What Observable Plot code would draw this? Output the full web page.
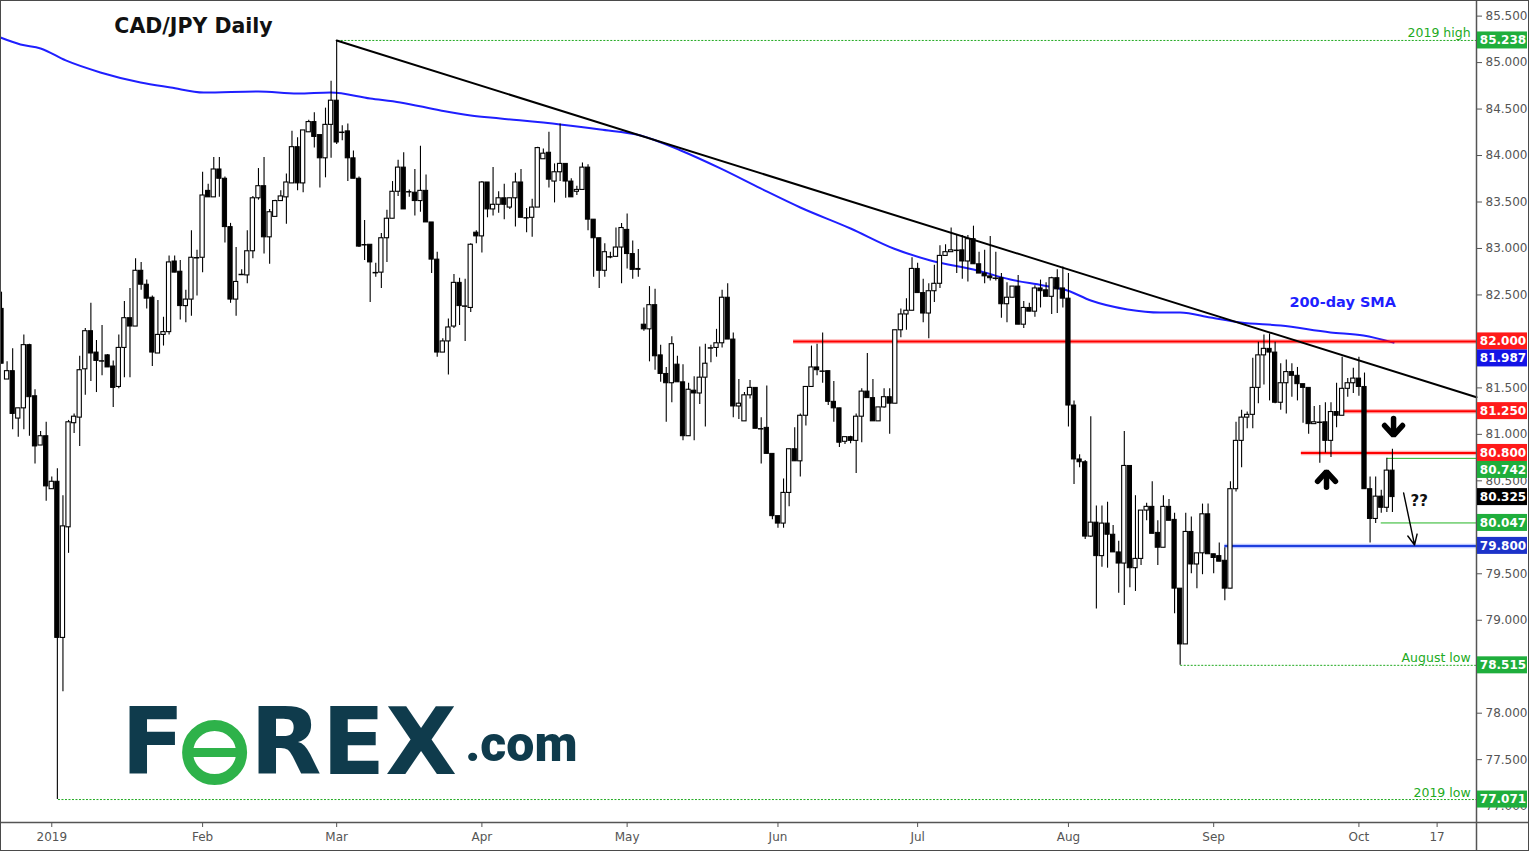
<!DOCTYPE html>
<html><head><meta charset="utf-8">
<script src="https://cdn.jsdelivr.net/npm/d3@7"></script>
<script src="https://cdn.jsdelivr.net/npm/@observablehq/plot@0.6"></script>
<style>
html,body{margin:0;padding:0;background:#fff;}
#wrap{position:relative;width:1529px;height:851px;overflow:hidden;}
#frame{position:absolute;left:0;top:0;width:1527px;height:849px;border:1px solid #4a4a4a;pointer-events:none;}
svg{display:block;}
</style></head><body><div id="wrap"><div id="frame"></div></div>
<script>
// ---- data: daily candles (Sun–Fri sessions), index 0 = first visible candle ----
const open = [82.35,81.59,81.68,81.17,81.28,81.96,81.41,80.88,80.98,80.41,80.49,78.81,80.00,81.12,81.18,81.70,82.11,81.88,81.79,81.85,81.73,81.51,81.93,82.25,82.16,82.76,82.61,82.47,81.87,82.07,82.10,82.86,82.75,82.38,82.45,82.90,82.90,83.62,83.55,83.85,83.75,83.23,82.45,82.72,82.71,82.97,83.54,83.67,83.12,83.34,83.51,83.55,83.70,84.09,83.70,84.25,84.36,84.22,83.97,84.33,84.59,84.25,84.26,83.97,83.75,83.04,83.04,82.74,82.74,83.11,83.32,83.61,83.87,83.61,83.60,83.51,83.62,83.28,82.88,81.88,82.00,82.16,82.63,82.38,82.36,83.17,83.13,83.71,83.42,83.47,83.54,83.44,83.54,83.71,83.33,83.33,83.44,83.96,84.03,83.72,83.82,83.91,83.72,83.61,83.63,83.87,83.31,83.11,82.76,82.91,82.91,83.01,83.20,82.94,82.78,82.18,82.13,82.39,81.85,81.65,81.55,81.75,81.56,80.98,81.47,81.44,81.61,81.93,81.93,81.98,82.47,82.02,81.30,81.14,81.42,81.50,81.06,81.07,80.79,80.12,80.04,80.37,80.84,80.71,81.20,81.51,81.72,81.68,81.68,81.35,81.28,80.92,80.97,80.93,81.19,81.46,81.39,81.14,81.29,81.40,81.33,82.12,82.29,82.33,82.78,82.52,82.30,82.54,82.62,82.92,82.96,82.98,82.98,82.86,83.10,82.83,82.73,82.70,82.68,82.68,82.40,82.47,82.59,82.18,82.36,82.32,82.57,82.55,82.48,82.68,82.57,82.46,81.31,80.73,80.70,79.90,80.05,79.69,80.04,79.92,79.73,79.61,80.66,79.56,79.66,80.18,80.22,79.94,79.78,80.22,80.08,79.34,78.74,79.95,79.60,79.72,80.14,79.71,79.69,79.64,79.34,80.41,80.93,81.18,81.21,81.50,81.85,81.92,81.88,81.34,81.55,81.67,81.63,81.54,81.50,81.11,81.13,81.13,80.93,81.24,81.20,81.49,81.55,81.60,81.51,80.41,80.09,80.33,80.21,80.61];
const high = [82.53,81.78,81.92,81.28,82.07,81.97,81.48,81.03,81.13,80.54,80.63,80.34,81.15,81.22,81.84,82.14,82.41,82.01,82.17,81.86,81.79,82.07,82.43,82.57,82.89,82.85,82.66,82.49,82.44,82.26,82.92,82.92,82.87,82.55,83.19,82.98,83.82,83.69,83.98,83.98,83.77,83.27,83.01,82.77,83.19,83.56,83.86,83.98,83.42,83.52,83.62,83.80,84.26,84.19,84.27,84.38,84.46,84.22,84.51,84.80,85.238,84.32,84.34,84.05,83.77,83.30,83.04,82.84,83.16,83.41,83.72,83.95,84.03,83.63,83.85,84.10,83.79,83.28,82.96,82.03,82.24,82.72,82.68,82.67,83.05,83.19,83.72,83.71,83.87,83.61,83.69,83.54,83.81,83.85,83.43,83.53,84.09,84.07,84.25,83.91,84.34,83.91,83.75,83.67,83.92,83.90,83.31,83.11,83.05,82.96,83.22,83.27,83.37,83.08,82.99,82.36,82.59,82.56,81.96,81.72,82.05,81.84,81.75,81.55,81.62,81.94,81.97,81.96,82.13,82.55,82.62,82.09,81.59,81.45,81.58,81.50,81.18,81.52,80.79,80.12,80.52,80.84,81.07,81.22,81.51,81.95,81.97,82.09,81.68,81.57,81.28,80.97,80.98,81.22,81.49,81.87,81.59,81.29,81.49,81.49,82.12,82.35,82.46,82.90,82.84,82.67,82.62,82.82,83.03,83.04,83.22,83.14,83.14,83.14,83.24,82.96,82.98,83.13,82.96,82.73,82.63,82.59,82.71,82.43,82.41,82.60,82.66,82.63,82.69,82.77,82.80,82.73,81.36,80.78,80.72,81.19,80.23,80.23,80.27,80.02,79.85,81.03,80.66,80.34,80.18,80.26,80.49,80.07,80.34,80.30,80.15,79.34,80.15,80.11,79.72,80.25,80.25,79.71,79.83,79.78,80.49,81.13,81.26,81.24,81.82,81.99,82.07,82.08,81.99,81.76,81.80,81.76,81.72,81.54,81.50,81.30,81.31,81.34,81.34,81.55,81.83,81.60,81.71,81.83,81.66,80.54,80.54,80.40,80.742,80.84];
const low = [81.76,81.59,81.05,80.97,81.05,80.98,80.68,80.88,80.28,80.41,77.071,78.23,79.72,81.01,80.87,81.42,81.57,81.45,81.63,81.72,81.29,81.49,81.61,81.61,82.16,82.55,82.35,81.73,81.87,81.95,82.07,82.74,82.23,82.20,82.27,82.49,82.74,83.55,83.55,83.55,83.06,82.41,82.27,82.72,82.62,82.89,83.52,82.94,82.83,83.34,83.51,83.26,83.70,83.62,83.60,84.25,84.08,83.65,83.76,83.97,84.12,84.16,83.72,83.75,83.01,82.87,82.42,82.69,82.57,82.85,83.32,83.56,83.42,83.55,83.35,83.39,83.28,82.73,81.83,81.88,81.64,82.14,82.17,82.00,82.31,83.05,82.95,83.33,83.35,83.38,83.31,83.42,83.23,83.33,83.17,83.12,83.44,83.96,83.65,83.49,83.72,83.54,83.55,83.57,83.63,83.19,82.69,82.57,82.69,82.89,82.91,82.62,82.78,82.67,82.69,82.11,81.78,81.69,81.56,81.13,81.34,81.56,80.93,80.98,80.93,81.32,81.08,81.77,81.83,81.93,82.02,81.18,81.16,81.14,81.38,81.06,80.68,80.79,80.08,79.99,79.99,80.22,80.71,80.54,81.09,81.51,81.63,81.55,81.31,81.13,80.86,80.89,80.90,80.58,80.91,81.39,81.14,81.14,81.28,81.00,81.33,82.04,82.12,82.33,82.52,82.20,82.03,82.42,82.57,82.92,82.96,82.73,82.67,82.64,82.83,82.73,82.62,82.65,82.65,82.25,82.20,82.47,82.18,82.14,82.32,82.26,82.36,82.48,82.29,82.30,82.36,81.08,80.46,80.64,79.87,79.89,79.12,79.57,79.56,79.73,79.29,79.16,79.35,79.31,79.59,80.07,79.93,79.59,79.78,80.07,79.07,78.515,78.74,79.50,79.34,79.49,79.71,79.50,79.63,79.21,79.34,80.38,80.64,81.06,81.06,81.33,81.53,81.36,81.33,81.26,81.22,81.40,81.36,81.12,81.00,81.11,80.69,80.80,80.75,81.07,81.20,81.40,81.44,81.41,80.41,79.83,80.04,80.15,80.16,80.16];
const close = [81.76,81.68,81.22,81.28,81.96,81.40,80.87,80.98,80.44,80.49,78.81,80.01,81.13,81.19,81.69,82.11,81.87,81.79,81.79,81.72,81.50,81.93,82.25,82.16,82.76,82.61,82.46,81.88,82.07,82.10,82.85,82.74,82.38,82.45,82.90,82.90,83.57,83.55,83.85,83.75,83.23,82.45,82.64,82.72,82.97,83.54,83.67,83.12,83.39,83.51,83.56,83.71,84.09,83.70,84.27,84.36,84.20,83.97,84.33,84.59,84.14,84.25,83.97,83.75,83.02,83.04,82.85,82.74,83.11,83.32,83.61,83.87,83.42,83.61,83.51,83.62,83.28,82.88,81.88,82.00,82.15,82.63,82.38,82.38,83.04,83.13,83.71,83.42,83.47,83.54,83.47,83.54,83.71,83.33,83.33,83.44,84.08,84.02,83.74,83.82,83.91,83.72,83.55,83.63,83.87,83.31,83.11,82.76,82.96,82.91,83.01,83.22,82.94,82.77,82.77,82.13,82.39,81.84,81.65,81.55,81.97,81.56,80.98,81.48,81.44,81.61,81.76,81.93,81.98,82.47,82.02,81.30,81.33,81.42,81.50,81.06,81.06,80.79,80.12,80.04,80.37,80.84,80.71,81.20,81.51,81.72,81.69,81.68,81.35,81.28,80.91,80.97,80.93,81.19,81.46,81.39,81.14,81.29,81.40,81.33,82.12,82.29,82.33,82.78,82.52,82.30,82.54,82.62,82.92,82.96,82.98,82.98,82.86,83.10,82.83,82.73,82.70,82.68,82.68,82.40,82.47,82.59,82.18,82.36,82.32,82.57,82.54,82.48,82.68,82.56,82.46,81.31,80.73,80.70,79.90,80.05,79.69,80.04,79.92,79.73,79.61,80.66,79.56,79.66,80.18,80.22,79.93,79.78,80.22,80.07,79.34,78.74,79.95,79.60,79.72,80.14,79.71,79.67,79.63,79.34,80.41,80.93,81.18,81.21,81.50,81.85,81.92,81.88,81.34,81.55,81.67,81.63,81.54,81.50,81.11,81.13,81.13,80.93,81.24,81.20,81.49,81.55,81.60,81.51,80.41,80.09,80.33,80.21,80.61,80.325];

// 200-day SMA (candle index, value)
const smaIdx = [-0.2,3.4,7,11.5,17.7,24.9,30.3,36.2,46,53,58.9,66,71.4,78.6,84,89.3,100,107.2,114.4,121.6,128.7,135.9,143,152,159.7,166.3,174.7,180.6,186.5,190.8,195,201.6,207.5,211,216.4,221.8,229,237.9,243.8,249.2];
const smaVal = [85.27,85.195,85.152,85.023,84.894,84.786,84.732,84.678,84.689,84.667,84.678,84.614,84.571,84.485,84.431,84.399,84.334,84.280,84.216,84.054,83.861,83.646,83.441,83.215,83.0,82.871,82.763,82.666,82.602,82.548,82.44,82.344,82.311,82.311,82.258,82.204,82.171,82.096,82.064,81.987];

// axis ticks
const monthIdx = [9,36,60,86,112,139,164,191,217,243,257];
const monthLbl = ["2019","Feb","Mar","Apr","May","Jun","Jul","Aug","Sep","Oct","17"];
const yTicks = [77,77.5,78,78.5,79,79.5,80,80.5,81,81.5,82,82.5,83,83.5,84,84.5,85,85.5];

// levels
const trendX = [60, 264.05], trendY = [85.238, 81.40];
const redLevels = [82.000, 81.250, 80.800], redStart = [141.8, 240.2, 232.7];
const greenLevels = [80.742, 80.047], greenStart = [248.1, 247.0];
const blueLevels = [79.800], blueStart = [219];
const markLevels = [85.238, 78.515, 77.071], markStart = [60.2, 211.1, 10.2], markLbl = ["2019 high","August low","2019 low"];

// right-axis price badges
const badgeVal = [85.238, 82.000, 81.987, 81.250, 80.800, 80.742, 80.325, 80.047, 79.800, 78.515, 77.071];
const badgeCol = ["#1fae3c","#ff1a1a","#1414e6","#ff1a1a","#ff1a1a","#1fae3c","#000000","#1fae3c","#1d33c9","#1fae3c","#1fae3c"];

// ---- build ----
const XMIN = -0.179, XMAX = 264.05, YMIN = 76.824, YMAX = 85.668;
const candles = open.map((o, i) => ({i, o, h: high[i], l: low[i], c: close[i]}));
const bull = candles.filter(d => d.c > d.o);
const bear = candles.filter(d => d.c < d.o);
const doji = candles.filter(d => d.c === d.o);
const W = 0.38;
const sma = smaIdx.map((x, k) => ({x, y: smaVal[k]}));
const trend = trendX.map((x, k) => ({x, y: trendY[k]}));
const lv = (vals, starts) => vals.map((v, k) => ({v, s: starts[k]}));
const reds = lv(redLevels, redStart), greens = lv(greenLevels, greenStart), blues = lv(blueLevels, blueStart);
const marks = markLevels.map((v, k) => ({v, s: markStart[k], t: markLbl[k]}));
const pxPerUnit = 822 / (YMAX - YMIN);
const BH = 17 / pxPerUnit;
let prev = Infinity;
const badges = badgeVal.map((v, k) => {
  let shown = v;
  if (prev - shown < BH) shown = prev - BH;
  prev = shown;
  return {v, shown, col: badgeCol[k], t: d3.format(".3f")(v)};
});
const px = (p) => p / pxPerUnit;               // pixels -> price units
const ipx = (p) => p * (XMAX - XMIN) / 1476;   // pixels -> index units
// tick labels hidden behind a badge
const hiddenTick = new Set(yTicks.filter(t => badges.some(b => Math.abs(b.shown - t) < px(6))));

// arrows (annotation, data units)
const downArrow = [
  {x: 249.2, y: 81.17, g: "s"}, {x: 249.2, y: 81.00, g: "s"},
  {x: 247.6, y: 81.095, g: "c"}, {x: 249.2, y: 80.99, g: "c"}, {x: 250.8, y: 81.095, g: "c"}];
const upArrow = [
  {x: 237.2, y: 80.43, g: "s"}, {x: 237.2, y: 80.59, g: "s"},
  {x: 235.6, y: 80.495, g: "c"}, {x: 237.2, y: 80.60, g: "c"}, {x: 238.8, y: 80.495, g: "c"}];

const LOGO_Y = 77.67;
const chart = Plot.plot({
  width: 1529, height: 851,
  marginLeft: 0, marginRight: 53, marginTop: 0, marginBottom: 29,
  x: {domain: [XMIN, XMAX], range: [0, 1476], axis: null},
  y: {domain: [YMIN, YMAX], range: [822, 0], axis: null},
  style: {fontFamily: "DejaVu Sans, Verdana, sans-serif", fontSize: "12px", background: "#fff", color: "#555"},
  marks: [
    // logo
    Plot.text(["F"], {x: 21.4, y: LOGO_Y, text: d => d, textAnchor: "start", fontSize: 93, fontWeight: "bold", fontFamily: "DejaVu Sans", fill: "#0f3b4c"}),
    Plot.dot([0], {x: 38.15, y: 77.577, r: 27, stroke: "#2eb24a", strokeWidth: 11, fill: "none"}),
    Plot.ruleY([77.577], {x1: 34.2, x2: 42.3, stroke: "#2eb24a", strokeWidth: 9}),
    Plot.text(["REX"], {x: 44.5, y: LOGO_Y, text: d => d, textAnchor: "start", fontSize: 93, fontWeight: "bold", fontFamily: "DejaVu Sans", fill: "#0f3b4c"}),
    Plot.text([".com"], {x: 83.0, y: 77.66, text: d => d, textAnchor: "start", fontSize: 50, fontWeight: 900, fontFamily: "Roboto", fill: "#0f3b4c"}),
    // title
    Plot.text(["CAD/JPY Daily"], {x: 20.2, y: YMAX - px(26), text: d => d, textAnchor: "start", fontSize: 20.5, fontWeight: "bold", fill: "#111"}),
    // dotted reference levels
    Plot.ruleY(marks, {y: "v", x1: "s", x2: XMAX, stroke: "#22aa22", strokeWidth: 1, strokeDasharray: "2,1.5"}),
    Plot.text(marks, {x: 263.0, y: d => d.v + px(7), text: "t", textAnchor: "end", fill: "#22aa22", fontSize: 12.5}),
    // SMA
    Plot.line(sma, {x: "x", y: "y", stroke: "#1f1fff", strokeWidth: 2, curve: "monotone-x"}),
    Plot.text(["200-day SMA"], {x: 240.1, y: 82.42, text: d => d, fill: "#1f1fff", fontWeight: "bold", fontSize: 14.5}),
    // red / blue horizontal levels with halo
    Plot.ruleY(reds, {y: "v", x1: "s", x2: XMAX, stroke: "#ff0000", strokeOpacity: 0.3, strokeWidth: 4.5}),
    Plot.ruleY(reds, {y: "v", x1: "s", x2: XMAX, stroke: "#ff0000", strokeWidth: 2}),
    Plot.ruleY(blues, {y: "v", x1: "s", x2: XMAX, stroke: "#1f3fff", strokeOpacity: 0.3, strokeWidth: 4.5}),
    Plot.ruleY(blues, {y: "v", x1: "s", x2: XMAX, stroke: "#1f3fdd", strokeWidth: 2}),
    Plot.ruleY(greens, {y: "v", x1: "s", x2: XMAX, stroke: "#22b422", strokeWidth: 1}),
    // candles
    Plot.ruleX(candles, {x: "i", y1: "l", y2: "h", stroke: "#000", strokeWidth: 1.1}),
    Plot.rect(bear, {x1: d => d.i - W, x2: d => d.i + W, y1: "o", y2: "c", fill: "#000", stroke: "#000", strokeWidth: 1}),
    Plot.rect(bull, {x1: d => d.i - W, x2: d => d.i + W, y1: "o", y2: "c", fill: "#fff", stroke: "#000", strokeWidth: 1.1}),
    Plot.ruleY(doji, {y: "o", x1: d => d.i - W - 0.1, x2: d => d.i + W + 0.1, stroke: "#000", strokeWidth: 1.5}),
    // trendline
    Plot.line(trend, {x: "x", y: "y", stroke: "#000", strokeWidth: 2}),
    // arrows
    Plot.line(downArrow, {x: "x", y: "y", z: "g", stroke: "#000", strokeWidth: 5.5, strokeLinejoin: "miter"}),
    Plot.line(upArrow, {x: "x", y: "y", z: "g", stroke: "#000", strokeWidth: 5.5, strokeLinejoin: "miter"}),
    Plot.arrow([{x1: 251.0, y1: 80.37, x2: 252.96, y2: 79.81}], {x1: "x1", y1: "y1", x2: "x2", y2: "y2", stroke: "#000", strokeWidth: 1.4, headLength: 12, headAngle: 50}),
    Plot.text(["??"], {x: 253.8, y: 80.28, text: d => d, fontWeight: "bold", fontSize: 15, fill: "#111"}),
    // axes
    Plot.ruleY([YMIN], {x1: XMIN - 1, x2: XMAX + 12, stroke: "#555", strokeWidth: 1.5}),
    Plot.ruleX([XMAX], {y1: YMIN - px(30), y2: YMAX, stroke: "#555", strokeWidth: 1.5}),
    Plot.axisY({anchor: "right", ticks: yTicks, tickFormat: d => hiddenTick.has(d) ? "" : d3.format(".3f")(d), tickSize: 5, tickPadding: 4, fontSize: 12, color: "#555"}),
    Plot.axisX({anchor: "bottom", ticks: monthIdx, tickFormat: d => monthLbl[monthIdx.indexOf(d)], tickSize: 5, tickPadding: 5, fontSize: 12, color: "#555"}),
    // badges
    Plot.rect(badges, {x1: XMAX + ipx(1), x2: XMAX + ipx(51), y1: d => d.shown - BH / 2, y2: d => d.shown + BH / 2, fill: "col"}),
    Plot.text(badges, {x: XMAX + ipx(26.5), y: "shown", text: "t", fill: "#fff", fontWeight: "bold", fontSize: 12})
  ]
});
document.getElementById("wrap").prepend(chart);
</script></body></html>
